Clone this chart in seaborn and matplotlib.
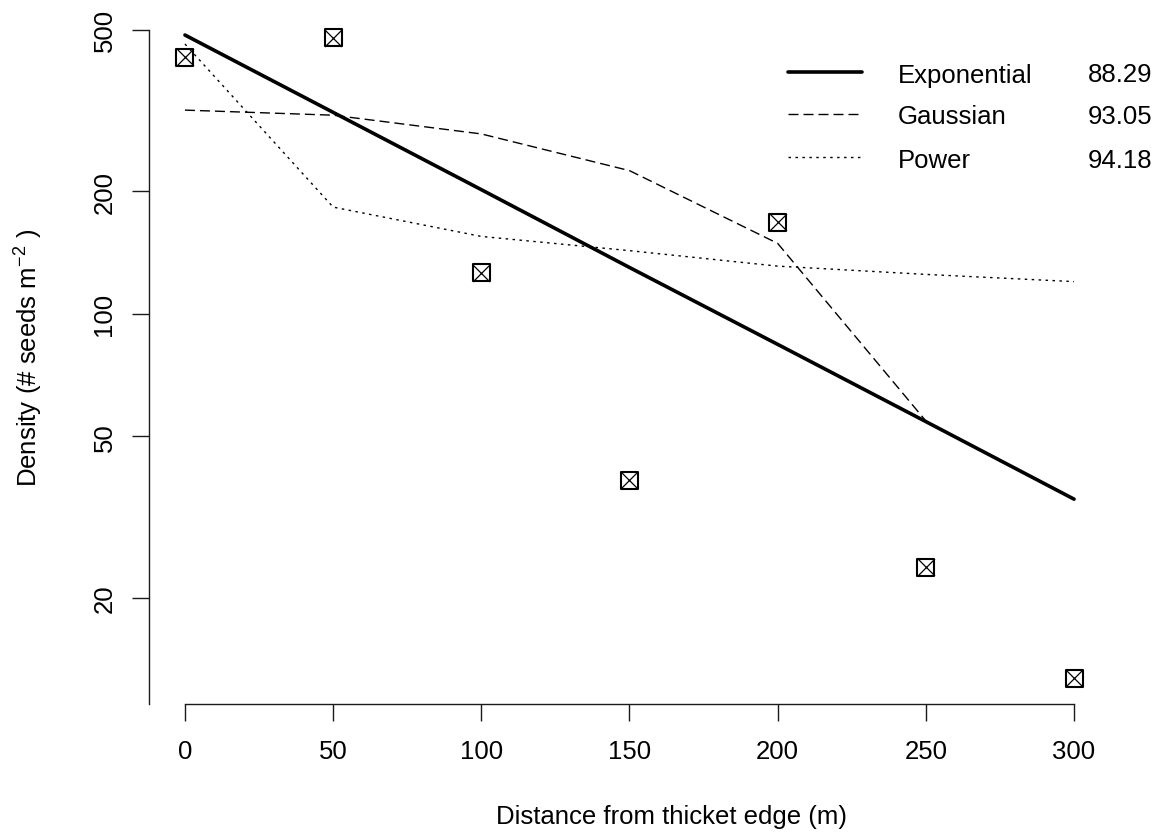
import numpy as np
import pandas as pd
import matplotlib
matplotlib.use("Agg")
import matplotlib.pyplot as plt
import seaborn as sns

# ---- data ----
distance = [0, 50, 100, 150, 200, 250, 300]
observed = [428, 477, 126, 39.0, 168, 23.8, 12.7]
exponential = [485, 313, 202, 130, 84.1, 54.3, 35.0]
gauss_distance = [0, 50, 100, 150, 200, 250]
gaussian = [317, 308, 277, 225, 149, 54.5]
power = [461, 183, 155, 143, 131, 125, 120]

model_names = ["Exponential", "Gaussian", "Power"]
model_scores = ["88.29", "93.05", "94.18"]
y_ticks = [20, 50, 100, 200, 500]
x_ticks = [0, 50, 100, 150, 200, 250, 300]

sns.set_style("white")
plt.rcParams["font.family"] = ["Liberation Sans", "DejaVu Sans"]
plt.rcParams["mathtext.fontset"] = "custom"
plt.rcParams["mathtext.rm"] = "Liberation Sans"
plt.rcParams["mathtext.it"] = "Liberation Sans:italic"
plt.rcParams["mathtext.bf"] = "Liberation Sans:bold"
plt.rcParams["text.color"] = "black"
plt.rcParams["axes.labelcolor"] = "black"
plt.rcParams["xtick.color"] = "black"
plt.rcParams["ytick.color"] = "black"

FS = 18.5
W, H = 1162, 837
fig = plt.figure(figsize=(W / 100, H / 100), dpi=100)
L, R, T, B = 149.4, 1109.6, 10.2, 705.0
ax = fig.add_axes([L / W, (H - B) / H, (R - L) / W, (B - T) / H])

lw_thin = 1.0
ls_dash = (0, (7.2, 3.6))
ls_dot = (0, (1.8, 3.2))

df_exp = pd.DataFrame({"d": distance, "v": exponential})
df_gau = pd.DataFrame({"d": gauss_distance, "v": gaussian})
df_pow = pd.DataFrame({"d": distance, "v": power})
df_obs = pd.DataFrame({"d": distance, "v": observed})

sns.lineplot(data=df_exp, x="d", y="v", ax=ax, color="black", lw=2.6,
             linestyle="-", errorbar=None)
sns.lineplot(data=df_gau, x="d", y="v", ax=ax, color="black", lw=lw_thin,
             linestyle=ls_dash, errorbar=None)
sns.lineplot(data=df_pow, x="d", y="v", ax=ax, color="black", lw=lw_thin,
             linestyle=ls_dot, errorbar=None)

sns.scatterplot(data=df_obs, x="d", y="v", ax=ax, marker="s", s=150,
                fc="none", edgecolor="black", linewidth=1.5, zorder=5)
sns.scatterplot(data=df_obs, x="d", y="v", ax=ax, marker="x", s=150,
                color="black", linewidth=0.9, zorder=5)

ax.set_yscale("log")
ax.set_xlim(-12, 312)
ax.set_ylim(10 ** 1.0401, 10 ** 2.7493)
ax.set_yticks(y_ticks)
ax.set_yticklabels([str(t) for t in y_ticks], rotation=90, va="center")
ax.yaxis.set_minor_locator(matplotlib.ticker.NullLocator())
ax.set_xticks(x_ticks)
ax.set_xticklabels([str(t) for t in x_ticks])

for s in ["top", "right"]:
    ax.spines[s].set_visible(False)
ax.spines["left"].set_bounds(10 ** 1.0401, 500)
ax.spines["bottom"].set_bounds(0, 300)
for s in ["left", "bottom"]:
    ax.spines[s].set_linewidth(1.0)
    ax.spines[s].set_color("#1a1a1a")

ax.tick_params(axis="both", which="major", bottom=True, left=True,
               direction="out", length=12.2, width=1.0,
               color="#1a1a1a", labelsize=FS, labelcolor="black")
ax.tick_params(axis="x", pad=13)
ax.tick_params(axis="y", pad=11.5)
ax.grid(False)

ax.set_xlabel("Distance from thicket edge (m)", fontsize=FS, color="black")
ax.set_ylabel(r"Density (# seeds m$^{\mathregular{-2}}$ )", fontsize=FS,
              color="black")
ax.xaxis.set_label_coords((672 - L) / (R - L), (B - 817) / (B - T))
ax.xaxis.label.set_va("center")
ax.yaxis.set_label_coords((29 - L) / (R - L), 0.5)
ax.yaxis.label.set_va("center")

# legend drawn manually
def ax_xy(px, py):
    return (px - L) / (R - L), (B - py) / (B - T)

rows_y = [73, 115, 158]
styles = [dict(lw=2.6, ls="-"), dict(lw=lw_thin, ls=ls_dash), dict(lw=lw_thin, ls=ls_dot)]
for name, score, py, st in zip(model_names, model_scores, rows_y, styles):
    x0, y0 = ax_xy(788, py)
    x1, _ = ax_xy(862, py)
    ax.plot([x0, x1], [y0, y0], transform=ax.transAxes, color="black",
            linewidth=st["lw"], linestyle=st["ls"], clip_on=False)
    xt, _ = ax_xy(898, py)
    ax.text(xt, y0, name, transform=ax.transAxes, fontsize=FS, color="black",
            ha="left", va="center_baseline")
    xs, _ = ax_xy(1152, py)
    ax.text(xs, y0, score, transform=ax.transAxes, fontsize=FS, color="black",
            ha="right", va="center_baseline")

fig.savefig("out.png", dpi=100, facecolor="white")
